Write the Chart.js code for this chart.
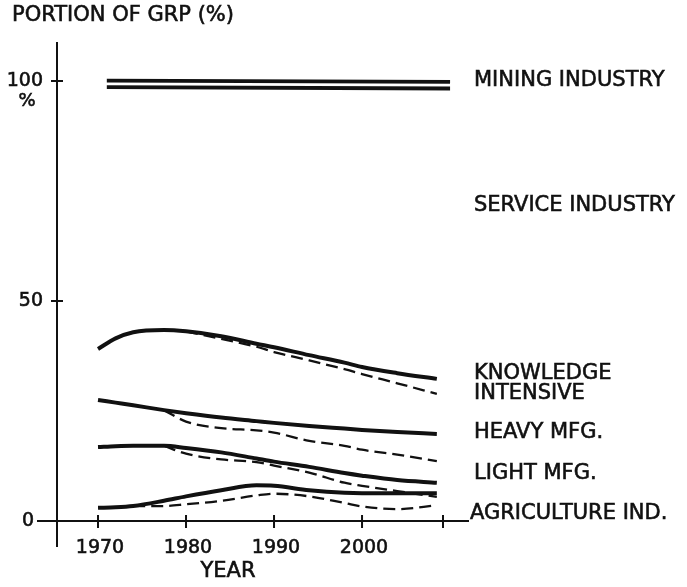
<!DOCTYPE html>
<html lang="en">
<head>
<meta charset="UTF-8">
<title>Portion of GRP</title>
<style>
  html, body { margin: 0; padding: 0; background: #fff; }
  #chart { display: block; }
</style>
</head>
<body>
<canvas id="chart" width="687" height="587"></canvas>
<script src="https://cdn.jsdelivr.net/npm/chart.js"></script>
<script>
// Shares of gross regional product by sector (%)
const years = [1970, 1972, 1974, 1977.5, 1980, 1984, 1988, 1990, 1994, 1998, 2000, 2004, 2008.5];

const knowledge    = [39.1, 41.5, 42.9, 43.4, 43.1, 42.0, 40.3, 39.5, 37.7, 36.0, 35.0, 33.6, 32.3];
const knowledgeAlt = [null, null, null, null, 43.1, 41.4, 39.6, 38.4, 36.5, 34.5, 33.4, 31.3, 28.9];
const heavy        = [27.5, 26.9, 26.3, 25.2, 24.5, 23.5, 22.7, 22.3, 21.6, 21.0, 20.7, 20.2, 19.8];
const heavyAlt     = [null, null, null, 25.2, 22.6, 21.1, 20.6, 20.1, 18.2, 17.1, 16.2, 15.1, 13.6];
const light        = [16.8, 17.0, 17.1, 17.1, 16.6, 15.6, 14.2, 13.5, 12.3, 10.9, 10.3, 9.3, 8.7];
const lightAlt     = [null, null, null, 17.1, 15.3, 14.0, 13.4, 12.6, 11.0, 8.7, 8.0, 6.8, 5.5];
const agri         = [3.0, 3.1, 3.4, 4.6, 5.6, 7.0, 8.1, 8.0, 7.0, 6.4, 6.3, 6.3, 6.3];
const agriAlt      = [null, null, 3.4, 3.4, 3.8, 4.6, 5.8, 6.2, 5.6, 4.1, 3.3, 2.7, 3.6];

const miningYears = [1971, 2010];
const miningUpper = [100.1, 99.8];
const miningLower = [98.6, 98.3];

const yearTicks = [1970, 1980, 1990, 2000];
const endTick = 2009.2;
const valueTicks = [0, 50, 100];

const sectorLabels = [
  { text: 'MINING INDUSTRY', value: 100 },
  { text: 'SERVICE INDUSTRY', value: 71.8 },
  { text: 'KNOWLEDGE', value: 33.4 },
  { text: 'INTENSIVE', value: 29.0 },
  { text: 'HEAVY MFG.', value: 20.2 },
  { text: 'LIGHT MFG.', value: 10.7 },
  { text: 'AGRICULTURE IND.', value: 1.8 }
];

const INK = '#111';
const FONT = '"DejaVu Sans", sans-serif';

function toPoints(xs, ys) {
  return xs.map((x, i) => ({ x: x, y: ys[i] }));
}

function series(values, dashed) {
  return {
    data: toPoints(years, values),
    borderColor: INK,
    borderWidth: dashed ? 2.3 : 4,
    borderDash: dashed ? [12, 6] : [],
    cubicInterpolationMode: 'monotone',
    pointRadius: 0,
    spanGaps: false,
    clip: false
  };
}

function miningLine(values) {
  return {
    data: toPoints(miningYears, values),
    borderColor: INK,
    borderWidth: 3.8,
    pointRadius: 0,
    clip: false
  };
}

// lettering is a touch heavier than the plain font, so outline it lightly
function letter(ctx, text, x, y, size) {
  ctx.font = size + 'px ' + FONT;
  ctx.fillText(text, x, y);
  ctx.strokeText(text, x, y);
}

// hand-drawn style axes, ticks and labels
const axesPlugin = {
  id: 'axes',
  afterDraw(chart) {
    const ctx = chart.ctx;
    const xs = chart.scales.x;
    const ys = chart.scales.y;
    const x0 = xs.getPixelForValue(xs.min);
    const y0 = ys.getPixelForValue(0);

    ctx.save();
    ctx.strokeStyle = INK;
    ctx.fillStyle = INK;
    ctx.lineWidth = 2;

    // vertical axis runs above 100 and below the year axis
    ctx.beginPath();
    ctx.moveTo(x0, 42);
    ctx.lineTo(x0, 547);
    // year axis runs out to the agriculture label
    ctx.moveTo(37, y0);
    ctx.lineTo(469, y0);
    ctx.stroke();

    ctx.beginPath();
    valueTicks.slice(1).forEach(v => {
      const y = ys.getPixelForValue(v);
      ctx.moveTo(x0 - 6, y);
      ctx.lineTo(x0 + 6, y);
    });
    yearTicks.concat([endTick]).forEach(yr => {
      const x = xs.getPixelForValue(yr);
      ctx.moveTo(x, y0 - 6);
      ctx.lineTo(x, y0 + 7);
    });
    ctx.stroke();

    ctx.lineWidth = 0.6;
    ctx.textBaseline = 'middle';

    ctx.textAlign = 'right';
    letter(ctx, '100', 43, ys.getPixelForValue(100), 19);
    letter(ctx, '50', 43, ys.getPixelForValue(50), 19);
    letter(ctx, '0', 34, y0, 19);
    ctx.textAlign = 'center';
    letter(ctx, '%', 27, ys.getPixelForValue(100) + 20, 18);

    yearTicks.forEach(yr => {
      letter(ctx, String(yr), xs.getPixelForValue(yr) + 2, 548, 19);
    });
    letter(ctx, 'YEAR', 228, 572, 21);

    ctx.textAlign = 'left';
    letter(ctx, 'PORTION OF GRP (%)', 12, 16, 21);

    sectorLabels.forEach(l => {
      const x = l.text.startsWith('AGRI') ? 470 : 474;
      letter(ctx, l.text, x, ys.getPixelForValue(l.value), 21);
    });

    ctx.restore();
  }
};

new Chart(document.getElementById('chart'), {
  type: 'line',
  data: {
    datasets: [
      miningLine(miningUpper),
      miningLine(miningLower),
      series(knowledge, false),
      series(knowledgeAlt, true),
      series(heavy, false),
      series(heavyAlt, true),
      series(light, false),
      series(lightAlt, true),
      series(agri, false),
      series(agriAlt, true)
    ]
  },
  options: {
    responsive: false,
    animation: false,
    events: [],
    layout: { padding: { left: 57, right: 244, top: 81, bottom: 66 } },
    scales: {
      x: { type: 'linear', min: 1965.34, max: 2009.2, display: false },
      y: { type: 'linear', min: 0, max: 100, display: false }
    },
    plugins: {
      legend: { display: false },
      tooltip: { enabled: false }
    }
  },
  plugins: [axesPlugin]
});
</script>
</body>
</html>
